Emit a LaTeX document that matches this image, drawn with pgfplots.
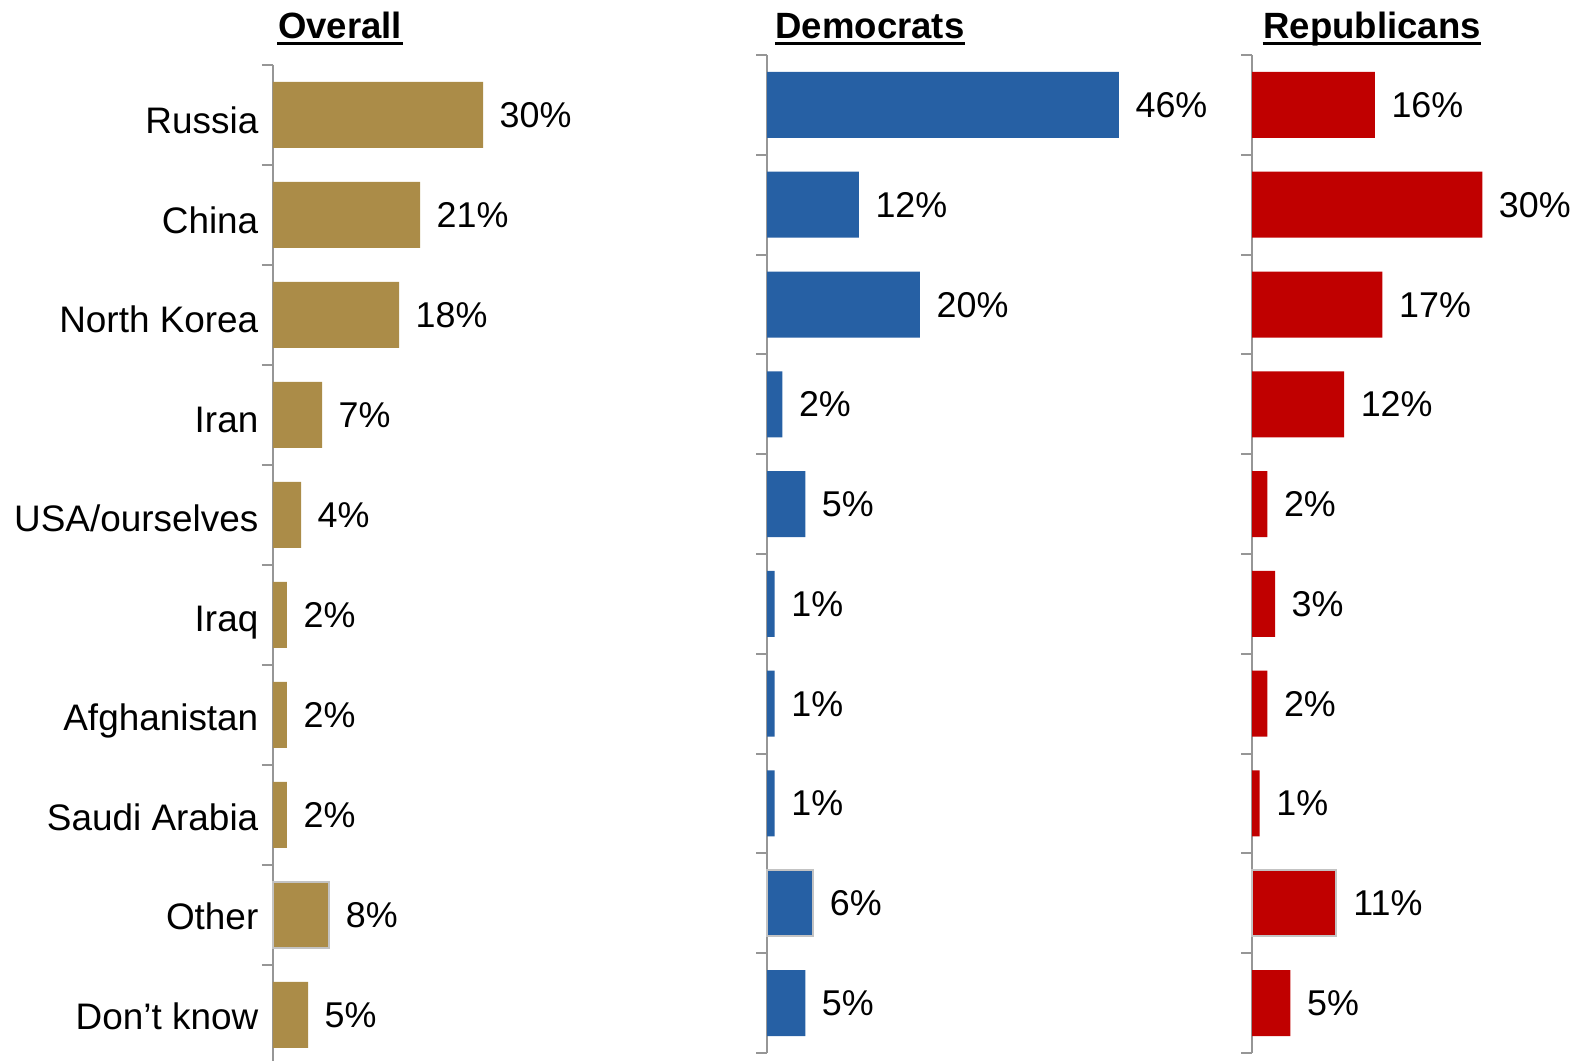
\documentclass[border=0pt]{standalone}
\usepackage{fontspec}
\setmainfont{Liberation Sans}
\usepackage{pgfplots}
\pgfplotsset{compat=1.18}
\usepackage{pgfplotstable}

\definecolor{gold}{RGB}{171,140,72}
\definecolor{dblue}{RGB}{38,96,164}
\definecolor{rred}{RGB}{192,0,0}
\definecolor{axgray}{RGB}{150,150,150}
\definecolor{edgegray}{RGB}{195,195,195}

% idx  overall  dem  rep
\pgfplotstableread{
idx ov dem rep
0 30 46 16
1 21 12 30
2 18 20 17
3 7 2 12
4 4 5 2
5 2 1 3
6 2 1 2
7 2 1 1
9 5 5 5
}\mainbars
\pgfplotstableread{
idx ov dem rep
8 8 6 11
}\otherbars

\pgfplotsset{
  panel/.style={
    scale only axis,
    xbar, bar width=6.6mm,
    y dir=reverse, ymin=-0.5, ymax=9.5,
    xmin=0,
    axis x line=none,
    axis y line*=left,
    y axis line style={draw=axgray, line width=0.2mm},
    ytick={0,...,9},
    major tick length=0pt,
    minor ytick={-0.5,0.5,...,9.5},
    minor tick length=1.1mm,
    tick align=outside,
    every minor tick/.style={draw=axgray, line width=0.2mm},
    clip=false,
    /pgf/number format/assume math mode=true,
    nodes near coords={\pgfmathprintnumber{\pgfplotspointmeta}\%},
    every node near coord/.style={anchor=base west, inner sep=0pt, xshift=1.6mm, yshift=-1.25mm, text=black},
    font=\fontsize{10.2}{12}\selectfont,
  },
}

\begin{document}
\begin{tikzpicture}[x=1mm,y=1mm]
\useasboundingbox (0,0) rectangle (158.7,106.1);

% Overall
\begin{axis}[panel, at={(27.3mm,-0.4mm)}, anchor=south west,
  width=28mm, height=100mm, xmax=40,
  ytick={0.05,1.045,2.04,3.035,4.03,5.025,6.02,7.015,8.01,9.005},
  yticklabels={Russia,China,North Korea,Iran,USA/ourselves,Iraq,Afghanistan,Saudi Arabia,Other,Don’t know},
  yticklabel style={anchor=base east, inner sep=0pt, xshift=-1.4mm, yshift=-1.4mm,
    font=\fontsize{10.5}{12}\selectfont},
]
\addplot[fill=gold, draw=none, bar shift=0pt] table[x=ov, y=idx] {\mainbars};
\addplot[fill=gold, draw=edgegray, line width=0.2mm, bar shift=0pt] table[x=ov, y=idx] {\otherbars};
\end{axis}

% Democrats
\begin{axis}[panel, at={(76.7mm,0.8mm)}, anchor=south west,
  width=38.25mm, height=99.8mm, xmax=50,
  yticklabels={},
]
\addplot[fill=dblue, draw=none, bar shift=0pt] table[x=dem, y=idx] {\mainbars};
\addplot[fill=dblue, draw=edgegray, line width=0.2mm, bar shift=0pt] table[x=dem, y=idx] {\otherbars};
\end{axis}

% Republicans
\begin{axis}[panel, at={(125.2mm,0.8mm)}, anchor=south west,
  width=30.7mm, height=99.8mm, xmax=40,
  yticklabels={},
]
\addplot[fill=rred, draw=none, bar shift=0pt] table[x=rep, y=idx] {\mainbars};
\addplot[fill=rred, draw=edgegray, line width=0.2mm, bar shift=0pt] table[x=rep, y=idx] {\otherbars};
\end{axis}

% panel titles
\foreach \cx/\txt in {34.0/Overall, 87.0/Democrats, 137.2/Republicans}{
  \node[anchor=base, inner sep=0pt, font=\fontsize{10.4}{12}\selectfont\bfseries] (t) at (\cx,102.2) {\txt};
  \draw[line width=0.3mm] ([yshift=-0.45mm]t.base west) -- ([yshift=-0.45mm]t.base east);
}
\end{tikzpicture}
\end{document}
